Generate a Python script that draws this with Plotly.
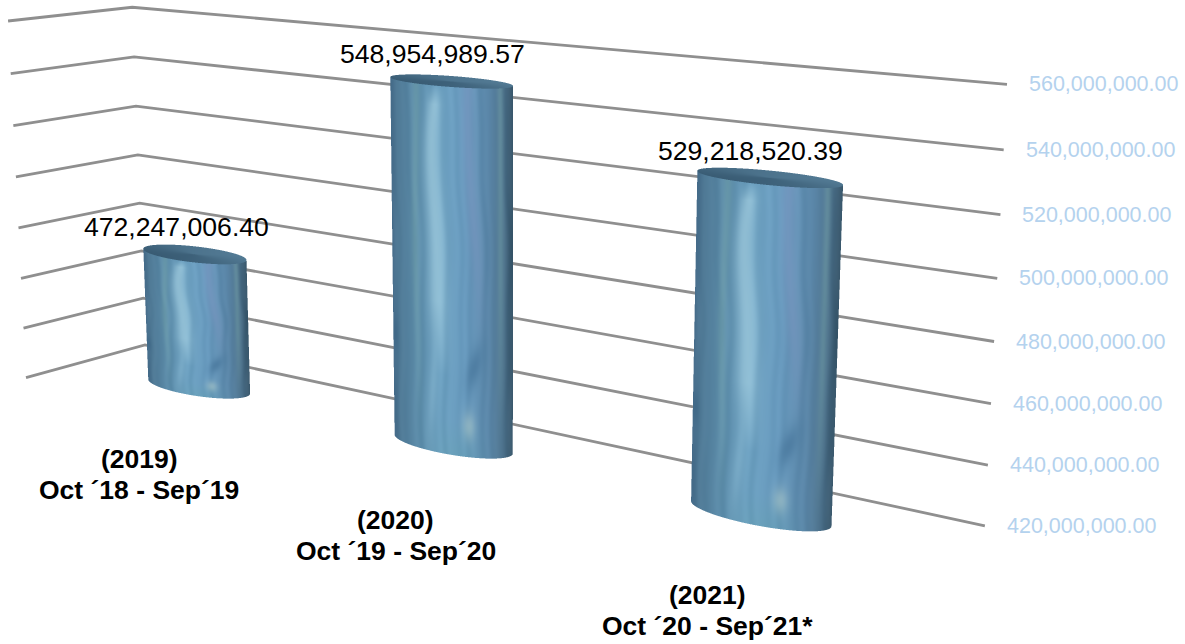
import numpy as np
import plotly.graph_objects as go

# ---- data -------------------------------------------------------------
years = ["(2019)", "(2020)", "(2021)"]
periods = ["Oct ´18 - Sep´19", "Oct ´19 - Sep´20", "Oct ´20 - Sep´21*"]
values = [472247006.40, 548954989.57, 529218520.39]
tick_values = [420e6, 440e6, 460e6, 480e6, 500e6, 520e6, 540e6, 560e6]

# ---- 3-D scale: category (0..1), depth (0 back .. 1 front), value (0..1) -> pixels
CAMERA = np.array([
    [602.7, -120.4, -17.24, 145.0],
    [54.18, 12.15, -338.0, 345.0],
    [-0.2408, -0.054, -0.0338, 1.0],
])
V_MIN, V_MAX = tick_values[0], tick_values[-1]


def zscale(v):
    return (np.asarray(v, float) - V_MIN) / (V_MAX - V_MIN)


def project(x, y, z):
    x, y, z = np.broadcast_arrays(np.asarray(x, float), np.asarray(y, float), np.asarray(z, float))
    w = CAMERA[2, 0] * x + CAMERA[2, 1] * y + CAMERA[2, 2] * z + CAMERA[2, 3]
    px = (CAMERA[0, 0] * x + CAMERA[0, 1] * y + CAMERA[0, 2] * z + CAMERA[0, 3]) / w
    py = (CAMERA[1, 0] * x + CAMERA[1, 1] * y + CAMERA[1, 2] * z + CAMERA[1, 3]) / w
    return px, py


# camera position, used to find which part of each cylinder faces the viewer
_, _, vt = np.linalg.svd(CAMERA)
EYE = vt[-1][:3] / vt[-1][3]

RX, RY, DEPTH = 0.0665, 0.175, 0.5
SS = 3  # supersampling of the painted surface


def gauss(a, c, w):
    return np.exp(-((a - c) / w) ** 2)


def paint(u, v):
    """Painted brush-stroke look of the columns (u across, v up, both 0..1)."""
    stops_u = [0, .05, .2, .4, .6, .8, .93, 1]
    stops = np.array([(66, 104, 134), (80, 122, 150), (90, 138, 168), (108, 160, 192),
                      (104, 154, 190), (90, 134, 168), (76, 112, 138), (54, 84, 104)], float)
    rgb = np.stack([np.interp(u, stops_u, stops[:, i]) for i in range(3)], -1)
    wob = u + .018 * np.sin(7 * v + 1) + .008 * np.sin(19 * v)
    fine = (np.sin(62 * wob + 2) + .7 * np.sin(37 * wob + 1) + .5 * np.sin(95 * wob + 3 * v))
    rgb += (fine * 2.6)[..., None]
    # main pale stroke
    c = .375 + .03 * np.sin(5.5 * v + .5) + .012 * np.sin(13 * v)
    s = gauss((u - c), 0, .05 + .10 * v * (1 - v)) * np.clip((v - .22) / .2, 0, 1) * np.clip((1.0 - v) / .05, 0, 1)
    rgb += (s * .58)[..., None] * (np.array([172, 214, 230.]) - rgb)
    # lower pale branch
    c2 = .30 + .22 * np.clip(v - .05, 0, 1)
    s2 = gauss(u - c2, 0, .04) * gauss(v, .18, .16)
    rgb += (s2 * .35)[..., None] * (np.array([150, 198, 222.]) - rgb)
    # green and violet stripes
    g = gauss(u - .2 - .01 * np.sin(8 * v), 0, .03) + gauss(u - .9, 0, .025)
    rgb += (g * .32 * np.clip(v * 2, 0, 1))[..., None] * (np.array([124, 172, 170.]) - rgb)
    p = gauss(u - .68 - .05 * np.sin(5 * v), 0, .05) * np.clip((v - .3) / .3, 0, 1)
    rgb += (p * .3)[..., None] * (np.array([140, 152, 200.]) - rgb)
    # dark knot and pale spot low on the right
    k = gauss(u - .68, 0, .07) * gauss(v - .25 - (u - .68) * .5, 0, .05)
    rgb += (k * .55)[..., None] * (np.array([62, 108, 146.]) - rgb)
    k2 = gauss(u - .02, 0, .025) * gauss(v - .3, 0, .05)
    rgb += (k2 * .55)[..., None] * (np.array([56, 98, 130.]) - rgb)
    sp = gauss(u - .63, 0, .055) * gauss(v - .085, 0, .04)
    rgb += (sp * .55)[..., None] * (np.array([172, 200, 200.]) - rgb)
    # green dust along the foot
    f = np.clip((.1 - v) / .1, 0, 1) * gauss(u - .55, 0, .2)
    rgb += (f * .2)[..., None] * (np.array([95, 165, 160.]) - rgb)
    return np.clip(rgb, 0, 255)


def column_image(xc, value):
    top = zscale(value)
    # silhouette bounds
    t_all = np.linspace(0, 2 * np.pi, 1440)
    xx = xc + RX * np.cos(t_all)
    yy = DEPTH + RY * np.sin(t_all)
    p0 = project(xx, yy, 0)
    p1 = project(xx, yy, top)
    x0 = int(min(p0[0].min(), p1[0].min())) - 2
    x1 = int(max(p0[0].max(), p1[0].max())) + 3
    y0 = int(min(p0[1].min(), p1[1].min())) - 2
    y1 = int(max(p0[1].max(), p1[1].max())) + 3
    W, H = (x1 - x0) * SS, (y1 - y0) * SS
    col = np.zeros((H, W, 3))
    mask = np.zeros((H, W))

    # visible side of the wall
    nx, ny = np.cos(t_all) / RX, np.sin(t_all) / RY
    vis = nx * (EYE[0] - xx) + ny * (EYE[1] - yy) > 0
    order = np.where(vis)[0]
    ts = t_all[order]
    pxv = project(xc + RX * np.cos(ts), DEPTH + RY * np.sin(ts), 0)[0]
    vs = np.linspace(0, 1, 1500)
    tt = np.linspace(0, 1, 1800)
    idx = np.argsort(pxv)
    ts_sorted = np.unwrap(ts[idx])
    dense_t = np.interp(tt, np.linspace(0, 1, len(ts_sorted)), ts_sorted)
    T, V = np.meshgrid(dense_t, vs)
    PX, PY = project(xc + RX * np.cos(T), DEPTH + RY * np.sin(T), V * top)
    Ulo, Uhi = PX.min(axis=1, keepdims=True), PX.max(axis=1, keepdims=True)
    U = (PX - Ulo) / (Uhi - Ulo)
    C = paint(U, V)
    ii = np.clip(((PX - x0) * SS).astype(int), 0, W - 1)
    jj = np.clip(((PY - y0) * SS).astype(int), 0, H - 1)
    col[jj, ii] = C
    mask[jj, ii] = 1

    # top cap
    R, T2 = np.meshgrid(np.linspace(0, 1, 500), np.linspace(0, 2 * np.pi, 2400))
    PX, PY = project(xc + RX * R * np.cos(T2), DEPTH + RY * R * np.sin(T2), top)
    ii = np.clip(((PX - x0) * SS).astype(int), 0, W - 1)
    jj = np.clip(((PY - y0) * SS).astype(int), 0, H - 1)
    frac = (PX - PX.min()) / (PX.max() - PX.min())
    a, b = np.array([54, 88, 112.]), np.array([84, 124, 150.])
    cap = a + (b - a) * (np.clip(.55 - .55 * np.sin(T2), 0, 1) * .5 + .5 * frac)[..., None]
    col[jj, ii] = cap
    mask[jj, ii] = 1

    # box filter to display pixels
    h, w = y1 - y0, x1 - x0
    m = mask.reshape(h, SS, w, SS).mean(axis=(1, 3))
    c = (col * mask[..., None]).reshape(h, SS, w, SS, 3).mean(axis=(1, 3)) / np.maximum(m, 1e-6)[..., None]
    rgba = np.dstack([c, m * 255]).round().astype(np.uint8)
    return x0, y0, rgba


fig = go.Figure()

# ---- grid lines along the two walls ------------------------------------
for tv in tick_values:
    z = zscale(tv)
    px, py = project([0, 0, 1], [1, 0, 0], [z, z, z])
    fig.add_trace(go.Scatter(x=px.tolist(), y=py.tolist(), mode="lines", hoverinfo="skip", showlegend=False,
                             line=dict(color="#8f8f8f", width=2.8)))

# ---- columns ------------------------------------------------------------
n = len(values)
positions = [(i + .5) / n for i in range(n)]
for xc, v in zip(positions, values):
    x0, y0, rgba = column_image(xc, v)
    fig.add_trace(go.Image(z=rgba, colormodel="rgba256", x0=x0 + .5, y0=y0 + .5, dx=1, dy=1,
                           hoverinfo="skip", xaxis="x2", yaxis="y2"))

# ---- texts --------------------------------------------------------------
ann = []
for tv in tick_values:
    px, py = project(1, 0, zscale(tv))
    ann.append(dict(x=float(px) + 20, y=float(py), text=f"{tv:,.2f}", xanchor="left", yanchor="middle",
                    font=dict(size=21.5, color="#b4d2ee")))
for xc, v, yr, pr in zip(positions, values, years, periods):
    px, py = project(xc, DEPTH, zscale(v))
    ann.append(dict(x=float(px) - 18, y=float(py) - 27, text=f"{v:,.2f}", xanchor="center", yanchor="middle",
                    font=dict(size=26.6, color="#000000")))
    px, py = project(xc, 1, 0)
    ann.append(dict(x=float(px) + 1, y=float(py) + 55, text=f"<b>{yr}</b>", xanchor="center", yanchor="middle",
                    font=dict(size=26.5, color="#000000")))
    ann.append(dict(x=float(px) + 1, y=float(py) + 86, text=f"<b>{pr}</b>", xanchor="center", yanchor="middle",
                    font=dict(size=26.5, color="#000000")))
for a in ann:
    a.update(xref="x", yref="y", showarrow=False)

axis = dict(visible=False, fixedrange=True)
fig.update_layout(
    width=1185, height=644, margin=dict(l=0, r=0, t=0, b=0, pad=0),
    paper_bgcolor="white", plot_bgcolor="white", showlegend=False,
    font=dict(family="Liberation Sans, Arial, sans-serif"),
    xaxis=dict(range=[0, 1185], **axis),
    yaxis=dict(range=[644, 0], **axis),
    xaxis2=dict(range=[0, 1185], overlaying="x", **axis),
    yaxis2=dict(range=[644, 0], overlaying="y", **axis),
    annotations=ann,
)
fig.write_html("out.html", config=dict(displayModeBar=False),
               post_script="document.body.style.margin='0';")
